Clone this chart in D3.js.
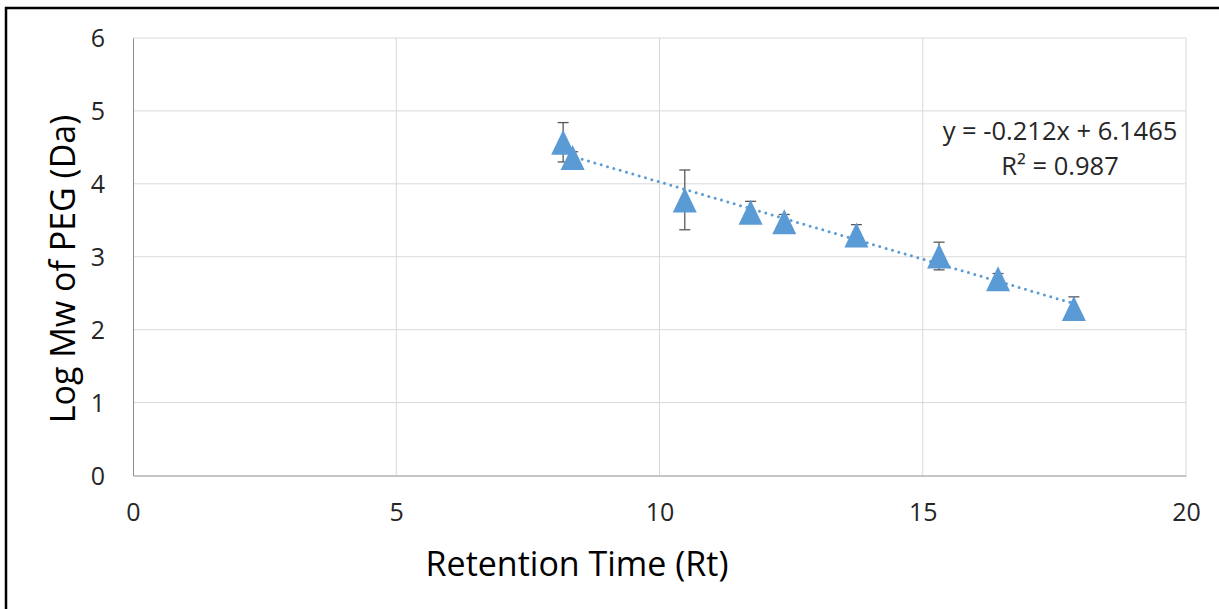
<!DOCTYPE html>
<html lang="en">
<head>
<meta charset="UTF-8">
<script src="https://cdn.jsdelivr.net/npm/d3@7"></script>
<title>Log Mw of PEG vs Retention Time</title>
<style>
  html, body { margin: 0; padding: 0; background: #fff; }
  svg { display: block; font-family: "Open Sans", sans-serif; font-variant-ligatures: none; }
</style>
</head>
<body>
<script>
  // retention time (x), log molecular weight (y) and error bar half-widths
  var retention = [8.17, 8.35, 10.48, 11.73, 12.37, 13.74, 15.31, 16.43, 17.87];
  var logMw = [4.57, 4.36, 3.78, 3.61, 3.48, 3.30, 3.01, 2.70, 2.29];
  var errors = [0.27, 0.08, 0.41, 0.15, 0.10, 0.14, 0.19, 0.07, 0.16];
  var xTicks = [0, 5, 10, 15, 20];
  var yTicks = [0, 1, 2, 3, 4, 5, 6];
  // linear fit
  var slope = -0.212, intercept = 6.1465, r2 = 0.987;

  var width = 1219, height = 609;
  var margin = {left: 133, right: 33, top: 38, bottom: 134};
  var blue = '#5b9bd5';

  var svg = d3.select('body').append('svg')
    .attr('width', width)
    .attr('height', height);

  // chart frame (runs off the right and bottom edges)
  svg.append('rect')
    .attr('x', 6).attr('y', 8)
    .attr('width', width + 20).attr('height', height + 20)
    .attr('fill', '#fff')
    .attr('stroke', '#000')
    .attr('stroke-width', 2.5);

  var x = d3.scaleLinear().domain([0, 20]).range([margin.left, width - margin.right]);
  var y = d3.scaleLinear().domain([0, 6]).range([height - margin.bottom + 0.5, margin.top]);

  // gridlines
  svg.append('g').selectAll('line')
    .data(xTicks.slice(1))
    .enter().append('line')
    .attr('x1', function(d) { return x(d); }).attr('x2', function(d) { return x(d); })
    .attr('y1', y(0)).attr('y2', y(6))
    .attr('stroke', '#d9d9d9').attr('stroke-width', 1);

  svg.append('g').selectAll('line')
    .data(yTicks.slice(1))
    .enter().append('line')
    .attr('x1', x(0)).attr('x2', x(20))
    .attr('y1', function(d) { return y(d); }).attr('y2', function(d) { return y(d); })
    .attr('stroke', '#d9d9d9').attr('stroke-width', 1);

  // axes (no tick marks, just the baseline and labels)
  var xAxis = svg.append('g')
    .attr('transform', 'translate(0,' + y(0) + ')')
    .call(d3.axisBottom(x).tickValues(xTicks).tickFormat(d3.format('d')).tickSize(0).tickPadding(38));
  var yAxis = svg.append('g')
    .attr('transform', 'translate(' + x(0) + ',0)')
    .call(d3.axisLeft(y).tickValues(yTicks).tickFormat(d3.format('d')).tickSize(0).tickPadding(28));

  [xAxis, yAxis].forEach(function(a) {
    a.select('.domain').attr('stroke', '#8c8c8c').attr('stroke-width', 1);
    a.selectAll('text')
      .attr('fill', '#262626')
      .style('font-size', '25px')
      .style('font-family', '"Open Sans", sans-serif');
  });
  xAxis.selectAll('text').attr('dy', '0.3em');
  yAxis.selectAll('text').attr('dy', '0.34em');

  // error bars
  var eb = svg.append('g').selectAll('g')
    .data(retention)
    .enter().append('g')
    .attr('stroke', '#595959')
    .attr('stroke-width', 1.3);
  eb.append('line')
    .attr('x1', function(d) { return x(d); }).attr('x2', function(d) { return x(d); })
    .attr('y1', function(d, i) { return y(logMw[i] + errors[i]); })
    .attr('y2', function(d, i) { return y(logMw[i] - errors[i]); });
  [1, -1].forEach(function(s) {
    eb.append('line')
      .attr('x1', function(d) { return x(d) - 5.5; }).attr('x2', function(d) { return x(d) + 5.5; })
      .attr('y1', function(d, i) { return y(logMw[i] + s * errors[i]); })
      .attr('y2', function(d, i) { return y(logMw[i] + s * errors[i]); });
  });

  // triangle markers
  var tw = 24, th = 25;
  svg.append('g').selectAll('path')
    .data(retention)
    .enter().append('path')
    .attr('d', function(d, i) {
      var cx = x(d), cy = y(logMw[i]);
      return 'M' + cx + ',' + (cy - th / 2) +
        'L' + (cx + tw / 2) + ',' + (cy + th / 2) +
        'L' + (cx - tw / 2) + ',' + (cy + th / 2) + 'Z';
    })
    .attr('fill', blue);

  // dotted trendline
  var xr = d3.extent(retention);
  svg.append('line')
    .attr('x1', x(xr[0])).attr('y1', y(slope * xr[0] + intercept))
    .attr('x2', x(xr[1])).attr('y2', y(slope * xr[1] + intercept))
    .attr('stroke', blue)
    .attr('stroke-width', 3)
    .attr('stroke-linecap', 'round')
    .attr('stroke-dasharray', '0 6.6');

  // equation label
  var eq = svg.append('text')
    .attr('text-anchor', 'middle')
    .attr('fill', '#262626')
    .style('font-size', '25.5px');
  eq.append('tspan').attr('x', 1060).attr('y', 140)
    .text('y = ' + slope + 'x + ' + intercept);
  eq.append('tspan').attr('x', 1060).attr('y', 175)
    .text('R² = ' + r2);

  // axis titles
  svg.append('text')
    .attr('x', 577).attr('y', 576)
    .attr('text-anchor', 'middle')
    .attr('fill', '#000')
    .style('font-size', '34px')
    .text('Retention Time (Rt)');

  svg.append('text')
    .attr('transform', 'translate(75,269) rotate(-90)')
    .attr('text-anchor', 'middle')
    .attr('fill', '#000')
    .style('font-size', '34px')
    .text('Log Mw of PEG (Da)');
</script>
</body>
</html>
